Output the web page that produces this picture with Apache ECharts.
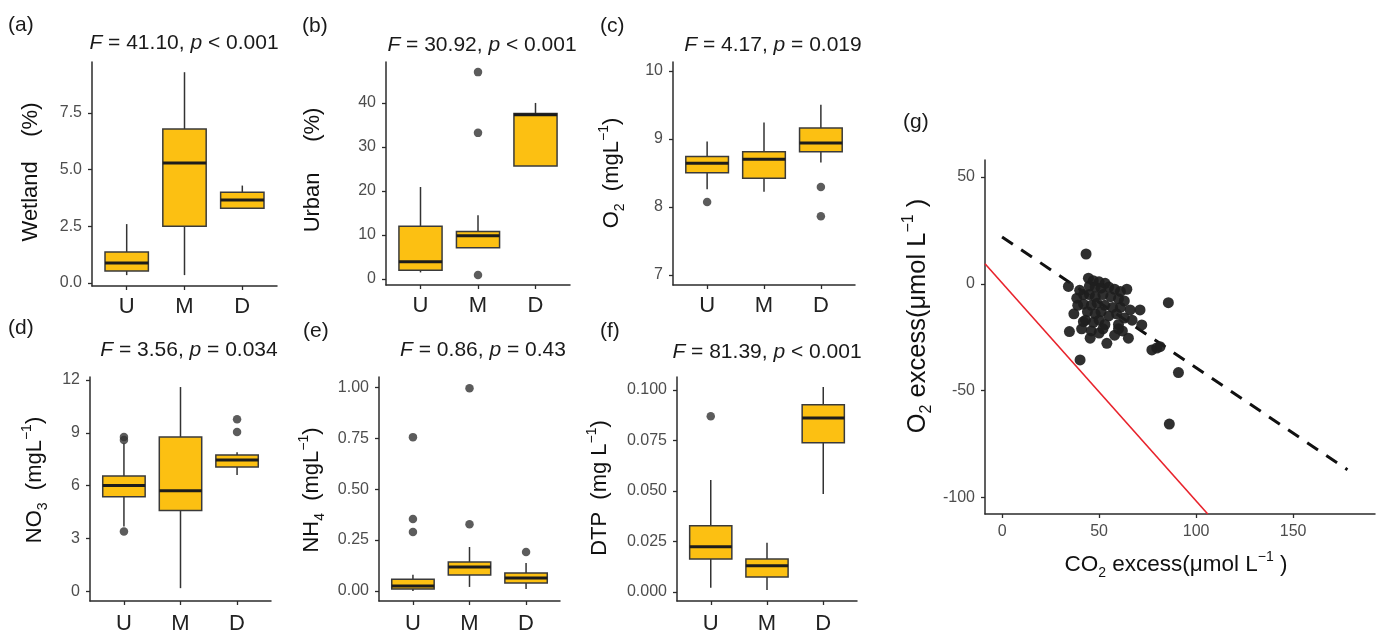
<!DOCTYPE html>
<html>
<head>
<meta charset="utf-8">
<script src="https://cdn.jsdelivr.net/npm/echarts@6/dist/echarts.min.js"></script>
<style>
  html, body { margin: 0; padding: 0; background: #ffffff; }
  #chart { width: 1378px; height: 635px; }
</style>
</head>
<body>
<div id="chart"></div>
<script>
// ---------------- DATA ----------------
const groups = ['U', 'M', 'D'];

// box stats per group: [lower whisker, Q1, median, Q3, upper whisker]
const wetlandBox = [[0.35, 0.53, 0.88, 1.37, 2.6], [0.35, 2.5, 5.3, 6.8, 9.3], [3.3, 3.3, 3.66, 4.0, 4.3]];
const wetlandOut = [];
const urbanBox = [[1.5, 2.0, 3.9, 12.0, 20.9], [7.1, 7.1, 9.8, 10.8, 14.5], [25.7, 25.7, 37.3, 37.6, 40.0]];
const urbanOut = [[2, 47.0], [2, 33.2], [2, 0.9]];
const o2Box = [[8.26, 8.5, 8.64, 8.74, 8.96], [8.22, 8.42, 8.7, 8.81, 9.24], [8.65, 8.81, 8.94, 9.16, 9.5]];
const o2Out = [[1, 8.07], [3, 8.29], [3, 7.86]];
const no3Box = [[3.67, 5.37, 6.0, 6.55, 8.4], [0.17, 4.58, 5.71, 8.76, 11.6], [6.6, 7.06, 7.46, 7.74, 7.9]];
const no3Out = [[1, 8.76], [1, 8.59], [1, 3.39], [3, 9.77], [3, 9.04]];
const nh4Box = [[0.0, 0.01, 0.025, 0.058, 0.08], [0.02, 0.078, 0.118, 0.142, 0.216], [0.01, 0.039, 0.064, 0.088, 0.137]];
const nh4Out = [[1, 0.755], [1, 0.353], [1, 0.289], [2, 0.995], [2, 0.328], [3, 0.191]];
const dtpBox = [[0.002, 0.0163, 0.0223, 0.0327, 0.0554], [0.001, 0.0074, 0.0129, 0.0163, 0.0243], [0.0485, 0.0738, 0.0861, 0.0926, 0.1015]];
const dtpOut = [[1, 0.087]];

const panelTags = ['(a)', '(b)', '(c)', '(d)', '(e)', '(f)', '(g)'];
const fStats = ['41.10', '30.92', '4.17', '3.56', '0.86', '81.39'];
const pStats = ['< 0.001', '< 0.001', '= 0.019', '= 0.034', '= 0.43', '< 0.001'];

const wetlandTicks = [0, 2.5, 5, 7.5];
const urbanTicks = [0, 10, 20, 30, 40];
const o2Ticks = [7, 8, 9, 10];
const no3Ticks = [0, 3, 6, 9, 12];
const nh4Ticks = [0, 0.25, 0.5, 0.75, 1];
const dtpTicks = [0, 0.025, 0.05, 0.075, 0.1];

// (g) scatter: CO2 excess vs O2 excess (µmol/L)
const co2Excess = [43.3, 85.7, 90.9, 86.2, 40.2, 77.2, 81.4, 79.7, 34.2, 34.7, 72.0, 71.1, 66.0, 64.3, 65.1, 54.0, 45.4, 41.9, 38.5, 44.5, 53.1,
  47, 50, 45, 48, 51, 55, 58, 61, 40, 42, 45, 48, 52, 56, 60, 63, 39, 42, 46, 49, 53, 57, 61, 44, 48, 51, 55, 59, 63, 43, 47, 50, 53, 60, 67, 41, 46, 50, 58, 62, 37, 52, 60];
const o2Excess = [14.0, -8.8, -41.5, -65.6, -35.6, -30.9, -29.4, -30.0, -1.2, -22.3, -19.2, -12.2, -12.2, -2.5, -25.4, -27.8, -25.4, -17.7, -6.7, 2.7, 0.3,
  1.5, 1, -1, -1.5, -2, -1.5, -2.5, -3.5, -3, -5, -5, -6, -5, -6, -7, -8, -10, -9.5, -10, -9, -10, -11, -11, -13, -14, -13, -15, -14, -16, -17, -18, -17, -19, -19, -17, -21, -22, -23, -24, -22, -14, -21, -21];
const fitLineX = [0, 178];
const fitLineY = [22, -87];
const refLineX = [-8.8, 106];
const refLineY = [9.4, -107.7];
const gTicksX = [0, 50, 100, 150];
const gTicksY = [-100, -50, 0, 50];

// ---------------- STYLE / LAYOUT ----------------
const FONT = "'Liberation Sans', Arial, Helvetica, sans-serif";
const BOX_FILL = '#FCC012';
const BOX_W = 0.75;
const AX_COLOR = '#2b2b2b';
const TICK_COLOR = '#4d4d4d';

const panels = [
  { box: wetlandBox, out: wetlandOut, ticks: wetlandTicks, dec: 1, grid: [92, 62, 185, 224], y: [-0.13, 9.75], lblMargin: 10 },
  { box: urbanBox, out: urbanOut, ticks: urbanTicks, dec: 0, grid: [386, 62, 184, 223], y: [-1.36, 49.3], lblMargin: 10 },
  { box: o2Box, out: o2Out, ticks: o2Ticks, dec: 0, grid: [673, 62, 182, 223], y: [6.85, 10.13], lblMargin: 10 },
  { box: no3Box, out: no3Out, ticks: no3Ticks, dec: 0, grid: [90, 377, 181, 225], y: [-0.56, 12.17], lblMargin: 12 },
  { box: nh4Box, out: nh4Out, ticks: nh4Ticks, dec: 2, grid: [379, 377, 181, 224], y: [-0.049, 1.05], lblMargin: 12 },
  { box: dtpBox, out: dtpOut, ticks: dtpTicks, dec: 3, grid: [677, 377, 180, 224], y: [-0.0045, 0.1064], lblMargin: 12 }
];

function renderBox(params, api) {
  const x = api.value(0);
  const lo = api.coord([x, api.value(1)]);
  const q1 = api.coord([x, api.value(2)]);
  const med = api.coord([x, api.value(3)]);
  const q3 = api.coord([x, api.value(4)]);
  const hi = api.coord([x, api.value(5)]);
  const w = api.size([BOX_W, 0])[0];
  const cx = lo[0];
  return {
    type: 'group',
    children: [
      { type: 'line', shape: { x1: cx, y1: hi[1], x2: cx, y2: lo[1] }, style: { stroke: '#333', lineWidth: 1.5 } },
      { type: 'rect', shape: { x: cx - w / 2, y: q3[1], width: w, height: q1[1] - q3[1] }, style: { fill: BOX_FILL, stroke: '#3a3a3a', lineWidth: 1.5 } },
      { type: 'line', shape: { x1: cx - w / 2, y1: med[1], x2: cx + w / 2, y2: med[1] }, style: { stroke: '#1c1c1c', lineWidth: 3 } }
    ]
  };
}

const grids = [], xAxes = [], yAxes = [], series = [], titles = [];

panels.forEach((p, i) => {
  grids.push({ left: p.grid[0], top: p.grid[1], width: p.grid[2], height: p.grid[3] });
  xAxes.push({
    gridIndex: i, type: 'value', min: 0.4, max: 3.6,
    axisLine: { show: true, onZero: false, lineStyle: { color: AX_COLOR, width: 1.5 } },
    axisTick: { show: true, length: 4, customValues: [1, 2, 3], lineStyle: { color: AX_COLOR, width: 1.3 } },
    axisLabel: { customValues: [1, 2, 3], formatter: v => groups[Math.round(v) - 1], fontSize: 22, color: '#222', fontFamily: FONT, margin: p.lblMargin },
    splitLine: { show: false }
  });
  yAxes.push({
    gridIndex: i, type: 'value', min: p.y[0], max: p.y[1],
    axisLine: { show: true, onZero: false, lineStyle: { color: AX_COLOR, width: 1.5 } },
    axisTick: { show: true, length: 4, customValues: p.ticks, lineStyle: { color: AX_COLOR, width: 1.3 } },
    axisLabel: { customValues: p.ticks, formatter: v => Number(v).toFixed(p.dec), fontSize: 16, color: TICK_COLOR, fontFamily: FONT, margin: 10 },
    splitLine: { show: false }
  });
  series.push({
    type: 'custom', xAxisIndex: i, yAxisIndex: i, renderItem: renderBox,
    encode: { x: 0, y: [1, 2, 3, 4, 5] },
    data: p.box.map((b, k) => [k + 1].concat(b)), silent: true, z: 2
  });
  series.push({
    type: 'scatter', xAxisIndex: i, yAxisIndex: i, symbolSize: 8.5,
    itemStyle: { color: '#333' }, data: p.out, silent: true, z: 3
  });
});

// panel g
grids.push({ left: 985, top: 160, width: 390, height: 354 });
xAxes.push({
  gridIndex: 6, type: 'value', min: -8.8, max: 192.2,
  axisLine: { show: true, onZero: false, lineStyle: { color: AX_COLOR, width: 1.5 } },
  axisTick: { show: true, length: 4, customValues: gTicksX, lineStyle: { color: AX_COLOR, width: 1.3 } },
  axisLabel: { customValues: gTicksX, fontSize: 16, color: TICK_COLOR, fontFamily: FONT, margin: 10 },
  splitLine: { show: false }
});
yAxes.push({
  gridIndex: 6, type: 'value', min: -107.7, max: 58,
  axisLine: { show: true, onZero: false, lineStyle: { color: AX_COLOR, width: 1.5 } },
  axisTick: { show: true, length: 4, customValues: gTicksY, lineStyle: { color: AX_COLOR, width: 1.3 } },
  axisLabel: { customValues: gTicksY, fontSize: 16, color: TICK_COLOR, fontFamily: FONT, margin: 10 },
  splitLine: { show: false }
});
series.push({
  type: 'line', xAxisIndex: 6, yAxisIndex: 6, showSymbol: false, silent: true, z: 2,
  data: refLineX.map((x, k) => [x, refLineY[k]]),
  lineStyle: { color: '#e8232c', width: 1.6 }
});
series.push({
  type: 'line', xAxisIndex: 6, yAxisIndex: 6, showSymbol: false, silent: true, z: 3,
  data: fitLineX.map((x, k) => [x, fitLineY[k]]),
  lineStyle: { color: '#111', width: 3, type: [13, 10] }
});
series.push({
  type: 'scatter', xAxisIndex: 6, yAxisIndex: 6, symbolSize: 11, silent: true, z: 4,
  itemStyle: { color: '#1e1e1e', opacity: 0.92 },
  data: co2Excess.map((x, k) => [x, o2Excess[k]])
});

// titles (F-test results)
const titlePos = [[184, 33], [482, 35], [773, 35], [189, 340], [483, 340], [767, 342]];
fStats.forEach((f, i) => {
  titles.push({
    text: '{i|F} = ' + f + ', {i|p} ' + pStats[i],
    left: titlePos[i][0], top: titlePos[i][1], textAlign: 'center', padding: 0,
    textStyle: {
      fontSize: 21, fontWeight: 'normal', color: '#1a1a1a', fontFamily: FONT,
      rich: { i: { fontStyle: 'italic', fontSize: 21, color: '#1a1a1a', fontFamily: FONT } }
    }
  });
});

// graphic texts: panel tags and axis titles
const tagPos = [[8, 25], [302, 26], [600, 26], [8, 328], [303, 331], [600, 331], [903, 122]];
const richSub = (fs) => ({
  sub: { fontSize: Math.round(fs * 0.62), verticalAlign: 'bottom', lineHeight: Math.round(fs * 0.7), fontFamily: FONT, fill: '#111' },
  sup: { fontSize: Math.round(fs * 0.62), verticalAlign: 'top', lineHeight: Math.round(fs * 0.62), fontFamily: FONT, fill: '#111' }
});
const yTitles = [
  { t: 'Wetland    (%)', x: 31, y: 172, fs: 22 },
  { t: 'Urban     (%)', x: 313, y: 170, fs: 22 },
  { t: 'O{sub|2}  (mgL{sup|−1})', x: 612, y: 173, fs: 22 },
  { t: 'NO{sub|3}  (mgL{sup|−1})', x: 35, y: 480, fs: 22 },
  { t: 'NH{sub|4}  (mgL{sup|−1})', x: 312, y: 490, fs: 22 },
  { t: 'DTP  (mg L{sup|−1})', x: 600, y: 488, fs: 22 },
  { t: 'O{sub|2} excess(μmol L{sup|−1} )', x: 918, y: 316, fs: 25.5 }
];
const graphics = [];
panelTags.forEach((t, i) => {
  graphics.push({ type: 'text', x: tagPos[i][0], y: tagPos[i][1], silent: true,
    style: { text: t, fontSize: 21, fontFamily: FONT, fill: '#1a1a1a', align: 'left', verticalAlign: 'middle' } });
});
yTitles.forEach(o => {
  graphics.push({ type: 'text', x: o.x, y: o.y, rotation: Math.PI / 2, silent: true,
    style: { text: o.t, fontSize: o.fs, fontFamily: FONT, fill: '#111', align: 'center', verticalAlign: 'middle',
      lineHeight: Math.round(o.fs * 1.35), rich: richSub(o.fs) } });
});
graphics.push({ type: 'text', x: 1176, y: 565, silent: true,
  style: { text: 'CO{sub|2} excess(μmol L{sup|−1} )', fontSize: 22.5, fontFamily: FONT, fill: '#111', align: 'center', verticalAlign: 'middle',
    lineHeight: 30, rich: richSub(22.5) } });

const chart = echarts.init(document.getElementById('chart'), null, { renderer: 'canvas' });
chart.setOption({
  backgroundColor: '#ffffff',
  animation: false,
  title: titles,
  grid: grids,
  xAxis: xAxes,
  yAxis: yAxes,
  series: series,
  graphic: graphics
});
</script>
</body>
</html>
